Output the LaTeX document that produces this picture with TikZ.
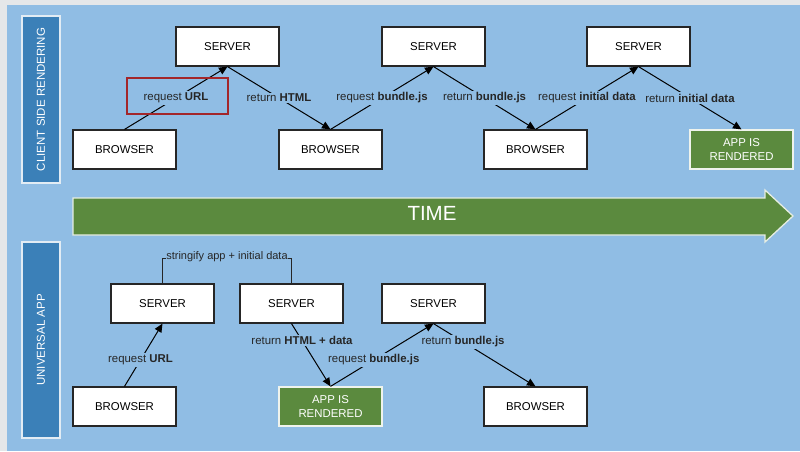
\documentclass[tikz,border=0pt]{standalone}
\usepackage{fontspec}
\setmainfont{Liberation Sans}
\usetikzlibrary{arrows.meta}
\definecolor{outergray}{HTML}{E5E7E9}
\definecolor{panelblue}{HTML}{90BDE4}
\definecolor{tagblue}{HTML}{3B80B8}
\definecolor{appgreen}{HTML}{5B8A3E}
\definecolor{markred}{HTML}{A3262A}
\tikzset{
  box/.style={draw=black!85, line width=1.2pt, fill=white, minimum width=103pt, minimum height=39pt, inner sep=0pt, font=\fontsize{11.4}{13}\selectfont},
  appbox/.style={draw=white!90!appgreen, line width=1.2pt, fill=appgreen, text=white, minimum width=103pt, minimum height=39pt, inner sep=0pt, align=center, font=\fontsize{11.4}{13.3}\selectfont},
  tagbox/.style={draw=white!85!tagblue, line width=1.3pt, fill=tagblue, text=white, minimum width=167pt, minimum height=38pt, inner sep=0pt, rotate=90, font=\fontsize{11.5}{13}\selectfont},
  flow/.style={draw=black, line width=1pt, -{Triangle[length=8.5pt,width=7.5pt]}},
  lbl/.style={fill=panelblue, inner sep=1.5pt, font=\fontsize{11.4}{13}\selectfont, text=black!85},
}
\begin{document}
\begin{tikzpicture}[x=1pt,y=-1pt]
\useasboundingbox (0,0) rectangle (800,451);
\fill[outergray] (0,0) rectangle (800,451);
\fill[panelblue] (7,5) rectangle (800,451);

% side tags
\node[tagbox] (tagcsr) at (41,99.5) {CLIENT SIDE RENDERING};
\node[tagbox, minimum width=196pt] (tagua) at (41,340) {UNIVERSAL APP};

% top row
\node[box] (s1) at (227.5,46.5) {SERVER};
\node[box] (s2) at (433.5,46.5) {SERVER};
\node[box] (s3) at (638.5,46.5) {SERVER};
\node[box] (b1) at (124.5,149.5) {BROWSER};
\node[box] (b2) at (330.5,149.5) {BROWSER};
\node[box] (b3) at (535.5,149.5) {BROWSER};
\node[appbox] (a1) at (741.5,149.5) {APP IS\\RENDERED};

\draw[flow] (b1.north) -- node[lbl, midway] {request \textbf{URL}} (s1.south);
\draw[flow] (s1.south) -- node[lbl, midway] {return \textbf{HTML}} (b2.north);
\draw[flow] (b2.north) -- node[lbl, midway] {request \textbf{bundle.js}} (s2.south);
\draw[flow] (s2.south) -- node[lbl, midway] {return \textbf{bundle.js}} (b3.north);
\draw[flow] (b3.north) -- node[lbl, midway] {request \textbf{initial data}} (s3.south);
\draw[flow] (s3.south) -- node[lbl, midway] {return \textbf{initial data}} (a1.north);

\draw[markred, line width=1.5pt] (127,78) rectangle (228,114);

% time arrow
\draw[fill=appgreen, draw=white!85!appgreen, line width=1.3pt]
  (73,198) -- (765,198) -- (765,190) -- (793,216) -- (765,242) -- (765,235) -- (73,235) -- cycle;
\node[text=white, font=\fontsize{20.5}{22}\selectfont] (time) at (432,213) {TIME};

% bottom row
\node[box] (sa) at (162.5,303.5) {SERVER};
\node[box] (sb) at (291.5,303.5) {SERVER};
\node[box] (sc) at (433.5,303.5) {SERVER};
\node[box] (ba) at (124.5,406.5) {BROWSER};
\node[appbox] (a2) at (330.5,406.5) {APP IS\\RENDERED};
\node[box] (bb) at (535.5,406.5) {BROWSER};

\draw[black!85, line width=0.8pt] (sa.north) -- ++(0,-25) -| (sb.north);
\node[lbl, font=\fontsize{11}{13}\selectfont, inner xsep=0pt, inner ysep=1pt] (strfy) at (227,257) {stringify app + initial data};

\draw[flow] (ba.north) -- node[lbl, pos=0.42] {request \textbf{URL}} (sa.south);
\draw[flow] (sb.south) -- node[lbl, pos=0.27] {return \textbf{HTML + data}} (a2.north);
\draw[flow] (a2.north) -- node[lbl, pos=0.42] {request \textbf{bundle.js}} (sc.south);
\draw[flow] (sc.south) -- node[lbl, pos=0.29] {return \textbf{bundle.js}} (bb.north);
\end{tikzpicture}
\end{document}
